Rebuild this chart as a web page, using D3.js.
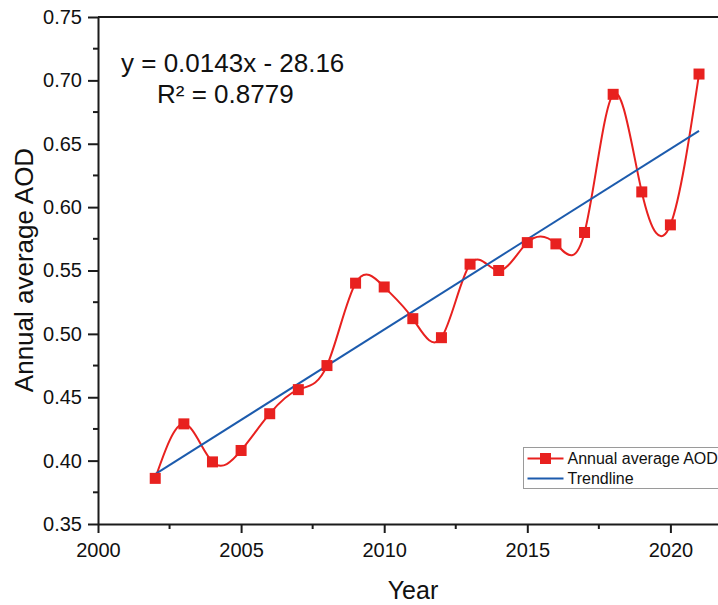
<!DOCTYPE html>
<html>
<head>
<meta charset="utf-8">
<script src="https://cdn.jsdelivr.net/npm/d3@7"></script>
<style>
  html, body { margin: 0; padding: 0; background: #fff; overflow: hidden; }
  svg { display: block; font-family: "Liberation Sans", Arial, sans-serif; }
</style>
</head>
<body>
<div id="chart"></div>
<script>
// Annual average AOD with linear trend
var years = [2002, 2003, 2004, 2005, 2006, 2007, 2008, 2009, 2010, 2011,
             2012, 2013, 2014, 2015, 2016, 2017, 2018, 2019, 2020, 2021];
var aod = [0.386, 0.429, 0.399, 0.408, 0.437, 0.456, 0.475, 0.540, 0.537, 0.512,
           0.497, 0.555, 0.550, 0.572, 0.571, 0.580, 0.689, 0.612, 0.586, 0.705];
var xTicks = [2000, 2005, 2010, 2015, 2020];
var yTicks = [0.35, 0.40, 0.45, 0.50, 0.55, 0.60, 0.65, 0.70, 0.75];
var equationLines = ['y = 0.0143x - 28.16', 'R\u00b2 = 0.8779'];
var legendLabels = ['Annual average AOD', 'Trendline'];

var W = 718, H = 605;
var M = { left: 98, top: 17, bottom: 524 };
var RED = '#e8211f', BLUE = '#1c5bad', AX = '#1b1b1b';

var svg = d3.select('#chart').append('svg')
  .attr('width', W)
  .attr('height', H);

var x = d3.scaleLinear().domain([2000, 2022.5]).range([M.left, M.left + 22.5 * 28.62]);
var y = d3.scaleLinear().domain([0.35, 0.75]).range([M.bottom, M.top]);

// linear fit through the data for the trendline
var n = years.length;
var mx = d3.mean(years), my = d3.mean(aod);
var sxy = 0, sxx = 0;
years.forEach(function(v, i) { sxy += (v - mx) * (aod[i] - my); sxx += (v - mx) * (v - mx); });
var slope = sxy / sxx, icpt = my - slope * mx;

// top frame line (runs past the window edge)
svg.append('line')
  .attr('x1', M.left).attr('x2', W + 10)
  .attr('y1', M.top).attr('y2', M.top)
  .attr('stroke', AX).attr('stroke-width', 2);

// x axis
var xAxis = d3.axisBottom(x)
  .tickValues(xTicks)
  .tickFormat(d3.format('d'))
  .tickSize(9)
  .tickSizeOuter(0)
  .tickPadding(10);
var gx = svg.append('g').attr('transform', 'translate(0,' + M.bottom + ')').call(xAxis);
gx.selectAll('.tick line').attr('stroke', AX).attr('stroke-width', 2);
gx.select('.domain').attr('stroke', AX).attr('stroke-width', 2);
gx.selectAll('text').attr('font-size', 20).attr('fill', '#111');
gx.selectAll('.minor').data(d3.range(2002.5, 2020, 5)).enter().append('line')
  .attr('x1', function(d) { return x(d); }).attr('x2', function(d) { return x(d); })
  .attr('y1', 0).attr('y2', 5)
  .attr('stroke', AX).attr('stroke-width', 2);

// y axis
var yAxis = d3.axisLeft(y)
  .tickValues(yTicks)
  .tickFormat(d3.format('.2f'))
  .tickSize(10)
  .tickSizeOuter(0)
  .tickPadding(6);
var gy = svg.append('g').attr('transform', 'translate(' + M.left + ',0)').call(yAxis);
gy.selectAll('.tick line').attr('stroke', AX).attr('stroke-width', 2);
gy.select('.domain').attr('stroke', AX).attr('stroke-width', 2);
gy.selectAll('text').attr('font-size', 20).attr('fill', '#111');
gy.selectAll('.minor').data(d3.range(0.375, 0.75, 0.05)).enter().append('line')
  .attr('x1', 0).attr('x2', -5)
  .attr('y1', function(d) { return y(d); }).attr('y2', function(d) { return y(d); })
  .attr('stroke', AX).attr('stroke-width', 2);

// axis titles
svg.append('text')
  .attr('transform', 'translate(33,270) rotate(-90)')
  .attr('text-anchor', 'middle')
  .attr('font-size', 26)
  .attr('fill', '#111')
  .text('Annual average AOD');
svg.append('text')
  .attr('x', 413).attr('y', 599)
  .attr('text-anchor', 'middle')
  .attr('font-size', 25)
  .attr('fill', '#111')
  .text('Year');

// data series: smooth spline through points
var pts = years.map(function(v, i) { return [v, aod[i]]; });
var line = d3.line()
  .x(function(d) { return x(d[0]); })
  .y(function(d) { return y(d[1]); })
  .curve(d3.curveNatural);

svg.append('path')
  .datum(pts)
  .attr('d', line)
  .attr('fill', 'none')
  .attr('stroke', RED)
  .attr('stroke-width', 2);

// trendline
var x0 = years[0], x1 = years[n - 1];
svg.append('line')
  .attr('x1', x(x0)).attr('y1', y(slope * x0 + icpt))
  .attr('x2', x(x1)).attr('y2', y(slope * x1 + icpt))
  .attr('stroke', BLUE)
  .attr('stroke-width', 2);

// markers
var SQ = 11;
svg.selectAll('.pt').data(pts).enter().append('rect')
  .attr('x', function(d) { return x(d[0]) - SQ / 2; })
  .attr('y', function(d) { return y(d[1]) - SQ / 2; })
  .attr('width', SQ).attr('height', SQ)
  .attr('fill', RED);

// equation
svg.append('text')
  .attr('x', 121).attr('y', 72)
  .attr('font-size', 26)
  .attr('fill', '#111')
  .text(equationLines[0]);
svg.append('text')
  .attr('x', 157).attr('y', 103)
  .attr('font-size', 26)
  .attr('fill', '#111')
  .text(equationLines[1]);

// legend (box runs past the window edge)
var lg = svg.append('g').attr('transform', 'translate(523.5,447.5)');
lg.append('rect')
  .attr('x', 0).attr('y', 0)
  .attr('width', 240).attr('height', 41)
  .attr('fill', '#fff')
  .attr('stroke', '#9a9a9a')
  .attr('stroke-width', 1);
lg.append('line')
  .attr('x1', 4).attr('x2', 40).attr('y1', 11).attr('y2', 11)
  .attr('stroke', RED).attr('stroke-width', 2);
lg.append('rect')
  .attr('x', 22 - SQ / 2).attr('y', 11 - SQ / 2)
  .attr('width', SQ).attr('height', SQ)
  .attr('fill', RED);
lg.append('line')
  .attr('x1', 4).attr('x2', 40).attr('y1', 31).attr('y2', 31)
  .attr('stroke', BLUE).attr('stroke-width', 2);
lg.selectAll('.lbl').data(legendLabels).enter().append('text')
  .attr('x', 44)
  .attr('y', function(d, i) { return 11 + i * 20; })
  .attr('dy', '0.35em')
  .attr('font-size', 16)
  .attr('fill', '#111')
  .text(function(d) { return d; });
</script>
</body>
</html>
